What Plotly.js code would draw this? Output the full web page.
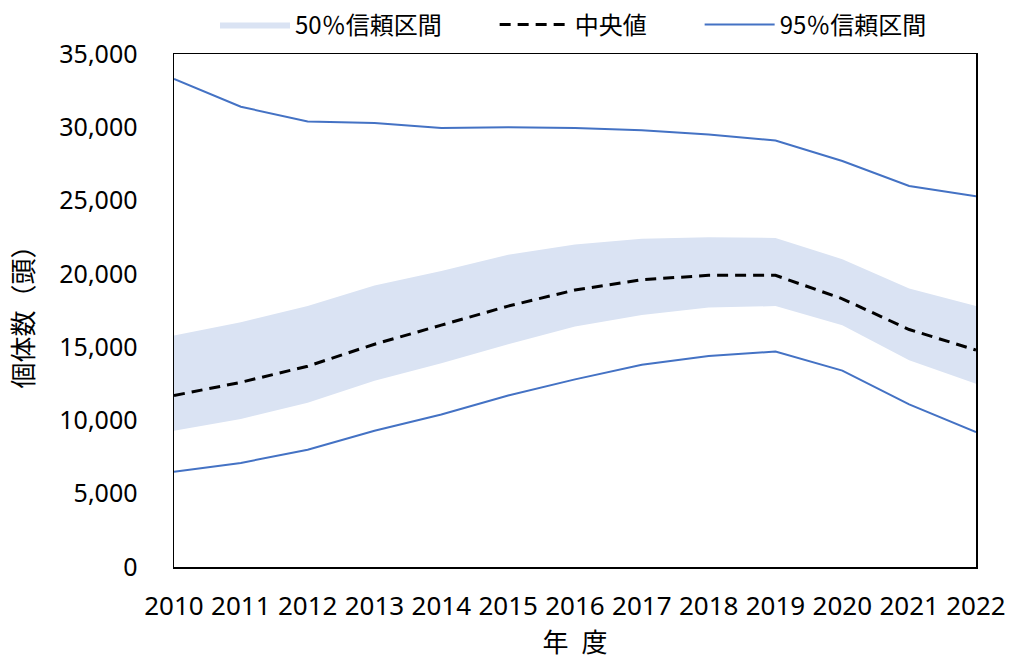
<!DOCTYPE html>
<html>
<head>
<meta charset="utf-8">
<script src="https://cdn.plot.ly/plotly-3.0.1.min.js"></script>
<style>html,body{margin:0;padding:0;background:#fff;}#chart{width:1009px;height:659px;}</style>
</head>
<body>
<div id="chart"></div>
<script>
const years = [2010,2011,2012,2013,2014,2015,2016,2017,2018,2019,2020,2021,2022];
const yearLabels = years.map(String);
const median = [11700,12600,13700,15200,16500,17800,18900,19600,19900,19900,18300,16200,14800];
const ci50Upper = [15800,16700,17800,19200,20200,21300,22000,22400,22500,22450,21000,19000,17800];
const ci50Lower = [9300,10100,11200,12700,13900,15200,16400,17200,17700,17800,16500,14100,12500];
const ci95Upper = [33300,31400,30400,30300,29950,30000,29950,29800,29500,29100,27700,26000,25300];
const ci95Lower = [6500,7100,8000,9300,10400,11700,12800,13800,14400,14700,13400,11100,9200];
const yTicks = [0,5000,10000,15000,20000,25000,30000,35000];
const seriesNames = ['50％信頼区間', '中央値', '95％信頼区間'];
const xTitle = '年\u2002度';
const yTitle = '個体数（頭）';

const blue = '#4472C4';
const fillCol = '#DAE3F3';
const fontNum = 'Noto Sans, Noto Sans CJK JP, sans-serif';
const fontJP = 'Noto Sans CJK JP, Noto Sans, sans-serif';
const pad = '\u2003\u2003';

const traces = [
  {x: years, y: ci50Lower, type:'scatter', mode:'lines', line:{width:0, color:fillCol}, showlegend:false, hoverinfo:'skip'},
  {x: years, y: ci50Upper, type:'scatter', mode:'lines', fill:'tonexty', fillcolor:fillCol, line:{width:0, color:fillCol}, name:seriesNames[0] + pad},
  {x: years, y: median, type:'scatter', mode:'lines', line:{color:'#000', width:3, dash:'11px,7px'}, name:seriesNames[1] + pad},
  {x: years, y: ci95Upper, type:'scatter', mode:'lines', line:{color:blue, width:2}, name:seriesNames[2], legendgroup:'ci95'},
  {x: years, y: ci95Lower, type:'scatter', mode:'lines', line:{color:blue, width:2}, name:seriesNames[2], legendgroup:'ci95', showlegend:false}
];

const layout = {
  width:1009, height:659,
  margin:{l:174, r:33, t:54, b:92},
  paper_bgcolor:'#fff', plot_bgcolor:'#fff',
  showlegend:true,
  legend:{orientation:'h', xref:'container', yref:'container', x:215/1009, y:1-25/659, xanchor:'left', yanchor:'middle',
          font:{family:fontJP, size:24, color:'#000'}, itemwidth:70, traceorder:'normal'},
  xaxis:{type:'linear', range:[2010,2022], tickmode:'array', tickvals:years, ticktext:yearLabels,
         showgrid:false, zeroline:false, showline:true, mirror:true, linecolor:'#000', linewidth:1.5,
         ticks:'', ticklabelstandoff:15,
         tickfont:{family:fontNum, size:26, color:'#000'},
         title:{text:xTitle, font:{family:fontJP, size:26, color:'#000'}, standoff:6}},
  yaxis:{range:[0,35000], tickmode:'array', tickvals:yTicks, tickformat:',d',
         showgrid:false, zeroline:false, showline:true, mirror:true, linecolor:'#000', linewidth:1.5,
         ticks:'', ticklabelstandoff:30,
         tickfont:{family:fontNum, size:25, color:'#000'},
         title:{text:yTitle, font:{family:fontJP, size:26, color:'#000'}, standoff:18}}
};

Plotly.newPlot('chart', traces, layout, {staticPlot:true, displayModeBar:false});
</script>
</body>
</html>
